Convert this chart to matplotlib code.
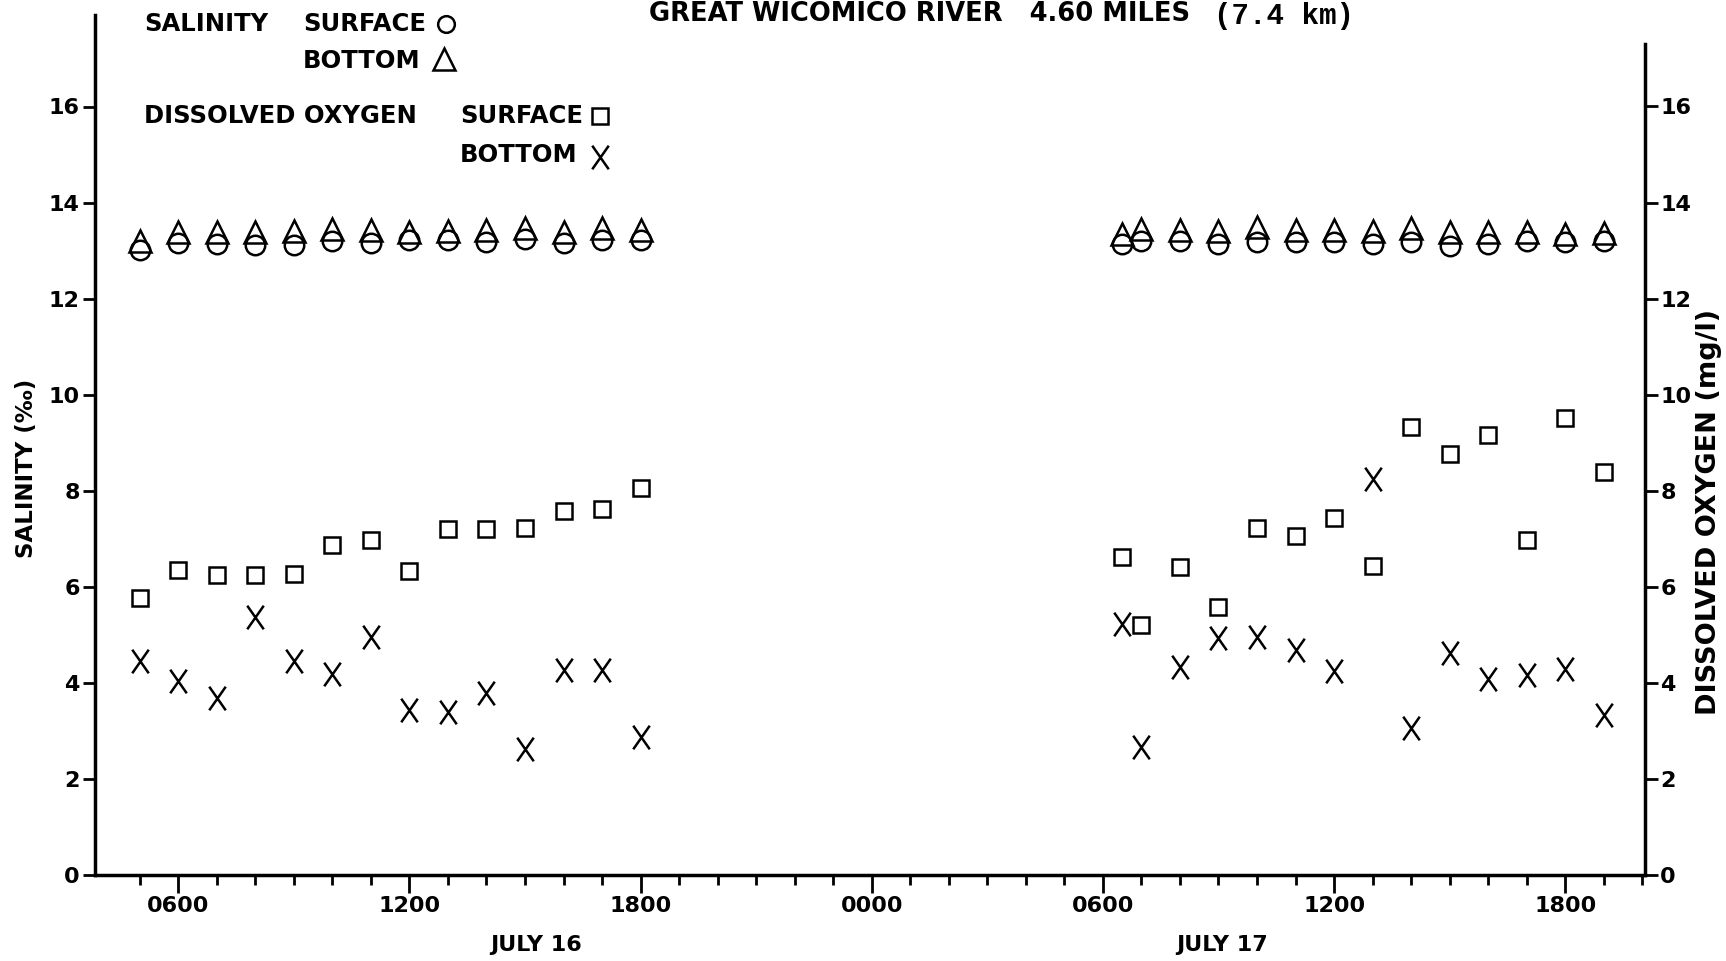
import matplotlib
matplotlib.use("Agg")
import matplotlib.pyplot as plt
from matplotlib.path import Path
from matplotlib.transforms import blended_transform_factory

# times are hours counted from 0000 on July 16
hours_jul16 = [5, 6, 7, 8, 9, 10, 11, 12, 13, 14, 15, 16, 17, 18]
hours_jul17 = [30.5, 31, 32, 33, 34, 35, 36, 37, 38, 39, 40, 41, 42, 43]

# salinity (ppt)
sal_surface_16 = [13.01, 13.16, 13.13, 13.11, 13.11, 13.20, 13.16, 13.22, 13.22, 13.19, 13.25, 13.16, 13.23, 13.22]
sal_bottom_16 = [13.21, 13.39, 13.39, 13.39, 13.41, 13.45, 13.43, 13.39, 13.41, 13.43, 13.47, 13.39, 13.47, 13.42]
sal_surface_17 = [13.14, 13.21, 13.21, 13.14, 13.17, 13.17, 13.17, 13.14, 13.17, 13.10, 13.14, 13.21, 13.17, 13.21]
sal_bottom_17 = [13.34, 13.45, 13.43, 13.40, 13.50, 13.43, 13.43, 13.41, 13.47, 13.38, 13.38, 13.38, 13.34, 13.36]

# dissolved oxygen (mg/l)
do_surface_16 = [5.77, 6.35, 6.24, 6.24, 6.28, 6.88, 6.98, 6.33, 7.21, 7.21, 7.23, 7.58, 7.62, 8.07]
do_bottom_16 = [4.46, 4.04, 3.68, 5.37, 4.46, 4.18, 4.96, 3.44, 3.40, 3.79, 2.63, 4.28, 4.28, 2.88]
do_surface_17 = [6.62, 5.20, 6.42, 5.58, 7.23, 7.07, 7.43, 6.43, 9.32, 8.77, 9.17, 6.98, 9.52, 8.40]
do_bottom_17 = [5.22, 2.67, 4.33, 4.94, 4.96, 4.69, 4.26, 8.25, 3.06, 4.62, 4.09, 4.16, 4.30, 3.34]

major_ticks = [6, 12, 18, 24, 30, 36, 42]
major_labels = ["0600", "1200", "1800", "0000", "0600", "1200", "1800"]
minor_ticks = [h for h in range(5, 45) if h not in major_ticks]
y_ticks = [0, 2, 4, 6, 8, 10, 12, 14, 16]
day_labels = ["JULY 16", "JULY 17"]
day_label_x = [15.3, 33.1]

W, H = 1726, 961
FONT = "DejaVu Sans"


def fx(px):
    return px / W


def fy(py):
    return 1 - py / H


# hand-lettered "X" is taller than it is wide
letter_x = Path([(-0.7, -1), (0.7, 1), (-0.7, 1), (0.7, -1)],
                [Path.MOVETO, Path.LINETO, Path.MOVETO, Path.LINETO])

fig = plt.figure(figsize=(W / 100, H / 100), dpi=100)
ax = fig.add_axes([fx(95), 1 - 875.3 / H, fx(1645) - fx(95), 17.9 * 48.05 / H])
ax2 = ax.twinx()

mk = dict(linestyle="none", markerfacecolor="none", markeredgecolor="black",
          markeredgewidth=1.8, clip_on=False)

for hrs, surf, bot in [(hours_jul16, sal_surface_16, sal_bottom_16),
                       (hours_jul17, sal_surface_17, sal_bottom_17)]:
    ax.plot(hrs, surf, marker="o", markersize=14, **mk)
    ax.plot(hrs, bot, marker="^", markersize=16, **mk)

for hrs, surf, bot in [(hours_jul16, do_surface_16, do_bottom_16),
                       (hours_jul17, do_surface_17, do_bottom_17)]:
    ax2.plot(hrs, surf, marker="s", markersize=12, **mk)
    ax2.plot(hrs, bot, marker=letter_x, markersize=17, **mk)

for a in (ax, ax2):
    a.set_xlim(3.84, 44.07)
    a.set_ylim(0, 17.9)
    a.spines["top"].set_visible(False)
    for s in a.spines.values():
        s.set_linewidth(2.5)

ax.spines["right"].set_visible(False)
ax2.spines["left"].set_visible(False)
ax2.spines["bottom"].set_visible(False)
ax2.spines["right"].set_bounds(0, 17.3)

ax.set_yticks(y_ticks)
ax.set_yticklabels([str(v) for v in y_ticks], fontsize=16, fontweight="bold", family=FONT)
ax2.set_yticks(y_ticks)
ax2.set_yticklabels([str(v) for v in y_ticks], fontsize=16, fontweight="bold", family=FONT)
ax.tick_params(axis="y", direction="out", length=9, width=2, pad=2)
ax2.tick_params(axis="y", direction="out", length=9, width=2, pad=2)

ax.set_xticks(major_ticks)
ax.set_xticklabels(major_labels, fontsize=16, fontweight="bold", family=FONT)
ax.set_xticks(minor_ticks, minor=True)
ax.tick_params(axis="x", which="major", direction="out", length=13, width=2, pad=2)
ax.tick_params(axis="x", which="minor", direction="out", length=7, width=2)

day_tr = blended_transform_factory(ax.transData, fig.transFigure)
for lab, xpos in zip(day_labels, day_label_x):
    ax.text(xpos, fy(945), lab, transform=day_tr, ha="center", va="center",
            fontsize=16, fontweight="bold", family=FONT)

fig.text(fx(27), fy(468), "SALINITY (‰)", rotation=90, ha="center", va="center",
         fontsize=16.5, fontweight="bold", family=FONT)
fig.text(fx(1709), fy(512), "DISSOLVED OXYGEN (mg/l)", rotation=90, ha="center",
         va="center", fontsize=19.5, fontweight="bold", family=FONT)

# title sits right at the top edge
fig.text(fx(649), fy(1), "GREAT WICOMICO RIVER   4.60 MILES", ha="left", va="top",
         fontsize=18.5, fontweight="bold", family=FONT)
fig.text(fx(1214), fy(16), "(7.4 km)", ha="left", va="center",
         fontsize=21, fontweight="bold", family=["Liberation Mono", "DejaVu Sans Mono"])

# hand-drawn key
key_text = [("SALINITY", 144, 24), ("SURFACE", 303, 24), ("BOTTOM", 303, 61),
            ("DISSOLVED OXYGEN", 144, 116), ("SURFACE", 460, 116), ("BOTTOM", 460, 155)]
for txt, x, y in key_text:
    fig.text(fx(x), fy(y), txt, ha="left", va="center", fontsize=17.5,
             fontweight="bold", family=FONT)

key_marks = [("o", 12, 446, 24), ("^", 16, 444, 59), ("s", 12, 600, 116), (letter_x, 17, 600, 157)]
for m, ms, x, y in key_marks:
    ax.plot([fx(x)], [fy(y)], marker=m, markersize=ms, transform=fig.transFigure, **mk)

fig.savefig("out.png", dpi=100)
